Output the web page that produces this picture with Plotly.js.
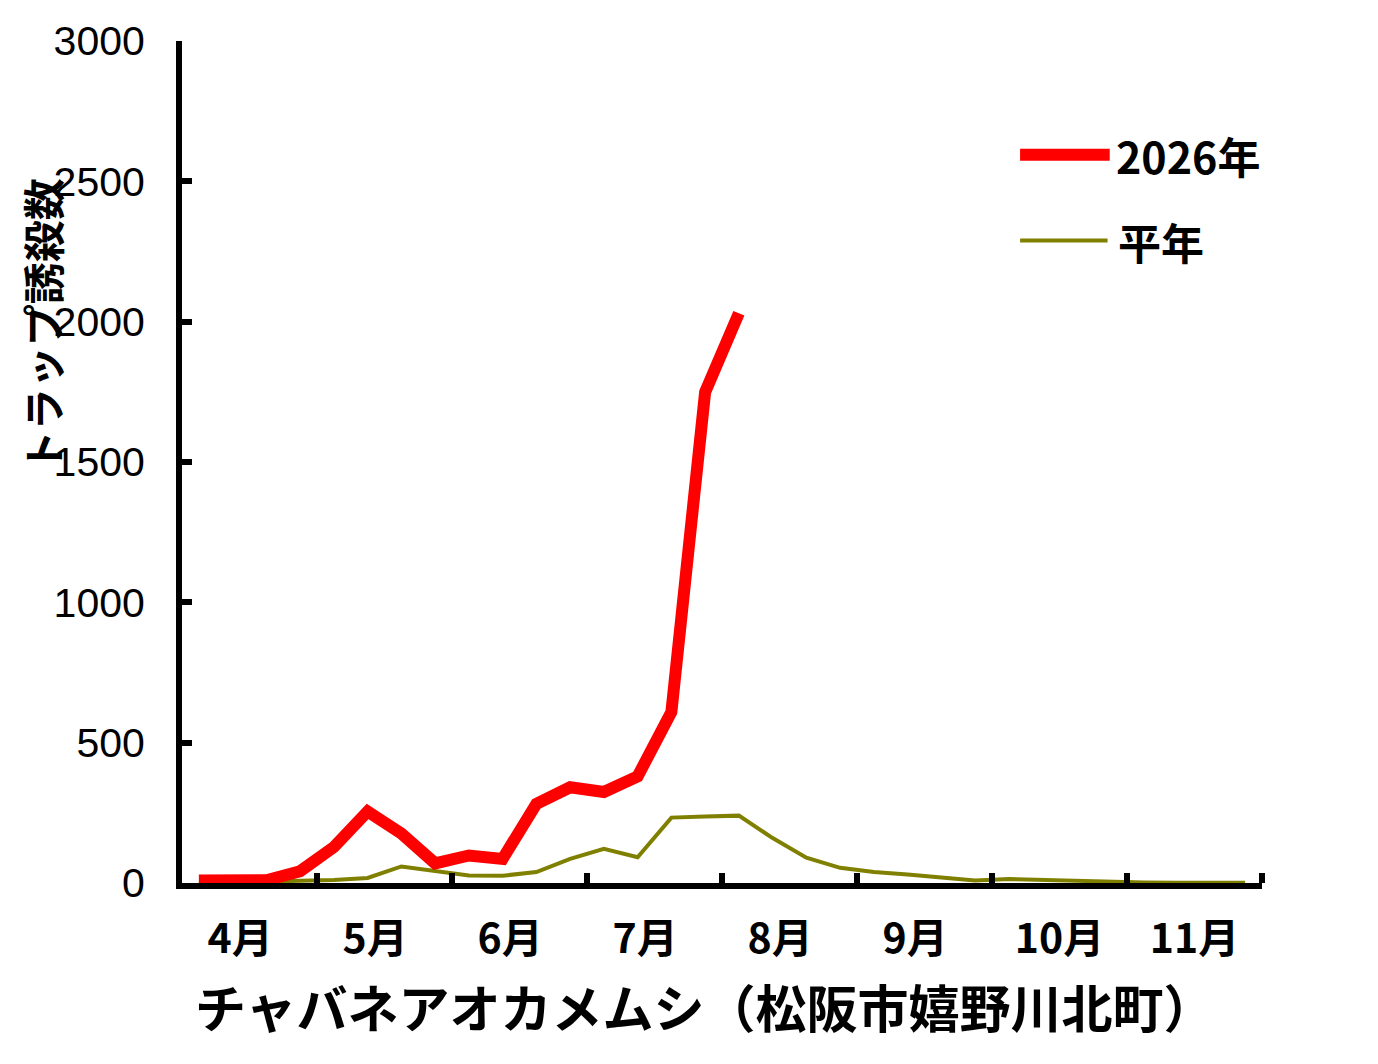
<!DOCTYPE html>
<html>
<head>
<meta charset="utf-8">
<script src="https://cdn.plot.ly/plotly-3.0.1.min.js"></script>
<style>
  body { margin: 0; background: #fff; }
  #chart { width: 1378px; height: 1064px; }
</style>
</head>
<body>
<div id="chart"></div>
<script>
// 4 readings per month, Apr .. Nov
const months = ["4月", "5月", "6月", "7月", "8月", "9月", "10月", "11月"];
const yTicks = [0, 500, 1000, 1500, 2000, 2500, 3000];
const catch2026 = [9, 5, 10, 42, 128, 255, 176, 70, 98, 86, 282, 341, 324, 380, 609, 1749, 2030];
const catchNormal = [0, 2, 3, 8, 11, 18, 59, 42, 27, 26, 39, 86, 122, 92, 233, 237, 240,
                     160, 90, 54, 39, 30, 21, 9, 14, 11, 6, 3, 2, 1, 1, 1];
const name2026 = "2026年";
const nameNormal = "平年";
const xTitle = "チャバネアオカメムシ（松阪市嬉野川北町）";
const yTitle = "トラップ誘殺数";

const perMonth = 4;
const idx = (arr) => arr.map((_, i) => i);
const nPoints = months.length * perMonth;

const monthCenters = months.map((_, m) => m * perMonth + (perMonth - 1) / 2);
const monthEdges = months.map((_, m) => (m + 1) * perMonth - 0.5);
// single digit labels sit a bit left in the original
const monthText = months.map((t) => t.length < 3 ? t + "\u00a0\u00a0" : t);

const jp = "'Noto Sans CJK JP', sans-serif";

const traceNormal = {
    name: nameNormal,
    x: idx(catchNormal),
    y: catchNormal,
    type: "scatter",
    mode: "lines",
    line: { color: "#808000", width: 4 },
    hoverinfo: "skip",
};
const trace2026 = {
    name: name2026,
    x: idx(catch2026),
    y: catch2026,
    type: "scatter",
    mode: "lines",
    line: { color: "#FF0000", width: 12 },
    hoverinfo: "skip",
};

const layout = {
    width: 1378,
    height: 1064,
    margin: { l: 182, r: 116, t: 41, b: 181, pad: 0 },
    paper_bgcolor: "#fff",
    plot_bgcolor: "#fff",
    showlegend: false,
    xaxis: {
        range: [-0.5, nPoints - 0.5],
        showgrid: false,
        zeroline: false,
        showline: true,
        linecolor: "#000",
        linewidth: 6,
        tickvals: monthCenters,
        ticktext: monthText,
        ticks: "",
        ticklabelstandoff: 15,
        tickfont: { family: jp, size: 41, color: "#000", weight: "bold" },
        minor: {
            tickvals: monthEdges,
            ticks: "inside",
            ticklen: 10,
            tickwidth: 6,
            tickcolor: "#000",
            showgrid: false,
        },
    },
    yaxis: {
        range: [0, 3000],
        showgrid: false,
        zeroline: false,
        showline: true,
        linecolor: "#000",
        linewidth: 6,
        tickvals: yTicks,
        ticks: "inside",
        ticklen: 10,
        tickwidth: 6,
        tickcolor: "#000",
        ticklabelstandoff: 23,
        tickfont: { family: "'Liberation Sans', Arial, sans-serif", size: 41, color: "#000" },
    },
    shapes: [
        { type: "line", xref: "paper", yref: "paper", x0: 0.776, x1: 0.859, y0: 0.865, y1: 0.865,
          line: { color: "#FF0000", width: 12 } },
        { type: "line", xref: "paper", yref: "paper", x0: 0.776, x1: 0.857, y0: 0.763, y1: 0.763,
          line: { color: "#808000", width: 4 } },
    ],
    annotations: [
        { text: name2026, xref: "paper", yref: "paper", x: 0.863, y: 0.865, xanchor: "left", yanchor: "middle",
          showarrow: false, font: { family: jp, size: 43, color: "#000", weight: "bold" } },
        { text: nameNormal, xref: "paper", yref: "paper", x: 0.865, y: 0.763, xanchor: "left", yanchor: "middle",
          showarrow: false, font: { family: jp, size: 43, color: "#000", weight: "bold" } },
        { text: "<b>" + xTitle + "</b>", xref: "paper", yref: "paper", x: 0.484, y: -0.146,
          xanchor: "center", yanchor: "middle", showarrow: false,
          font: { family: jp, size: 51, color: "#000" } },
        { text: yTitle, xref: "paper", yref: "paper", x: -0.13, y: 0.662, textangle: -90,
          xanchor: "center", yanchor: "middle", showarrow: false,
          font: { family: jp, size: 42, color: "#000", weight: "bold" } },
    ],
};

const config = { responsive: false, displayModeBar: false, staticPlot: true };
Plotly.newPlot("chart", [traceNormal, trace2026], layout, config);
</script>
</body>
</html>
